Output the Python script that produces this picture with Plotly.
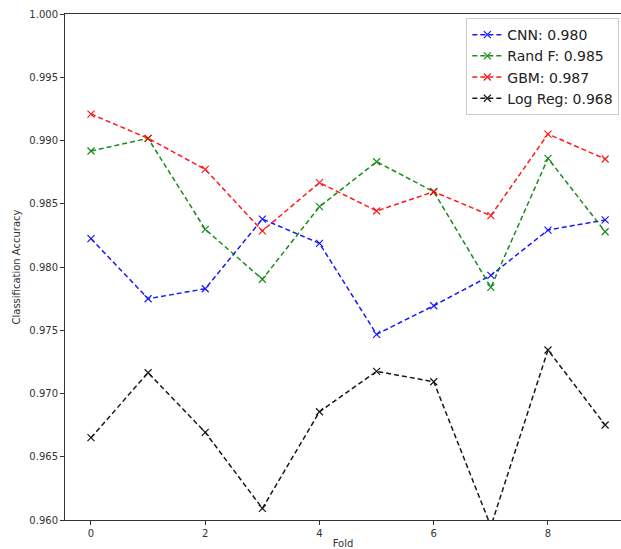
import plotly.graph_objects as go

folds = list(range(10))
cnn = [0.98224, 0.97749, 0.97828, 0.98379, 0.98187, 0.97468, 0.97694, 0.97934, 0.98292, 0.98372]
rand_f = [0.98917, 0.99017, 0.98298, 0.97903, 0.98477, 0.98832, 0.98595, 0.97839, 0.98859, 0.98279]
gbm = [0.99209, 0.99017, 0.98772, 0.98285, 0.98667, 0.98443, 0.98595, 0.98406, 0.99051, 0.98854]
log_reg = [0.96651, 0.97164, 0.96693, 0.96092, 0.96856, 0.97175, 0.97093, 0.9595, 0.97344, 0.96751]

series_names = ["CNN: 0.980", "Rand F: 0.985", "GBM: 0.987", "Log Reg: 0.968"]
series_values = [cnn, rand_f, gbm, log_reg]
series_colors = ["#0000ff", "#008000", "#ff0000", "#000000"]

y_ticks = [0.960, 0.965, 0.970, 0.975, 0.980, 0.985, 0.990, 0.995, 1.000]
x_ticks = [0, 2, 4, 6, 8]

fig = go.Figure()
for name, vals, col in zip(series_names, series_values, series_colors):
    fig.add_trace(go.Scatter(
        x=folds, y=vals, name=name, mode="lines+markers",
        line=dict(color=col, width=1.5, dash="5px,3px"),
        marker=dict(symbol="x-thin", size=7, line=dict(color=col, width=1.2), color=col),
        opacity=0.9,
    ))

font = "DejaVu Sans, Liberation Sans, sans-serif"
fig.update_layout(
    width=621, height=549,
    margin=dict(l=65, r=0, t=14, b=29),
    paper_bgcolor="white", plot_bgcolor="white",
    font=dict(family=font, size=10, color="#333333"),
    showlegend=True,
    legend=dict(
        x=0.997, y=0.992, xanchor="right", yanchor="top",
        bgcolor="rgba(255,255,255,0.9)", bordercolor="#cccccc", borderwidth=1,
        font=dict(family=font, size=14, color="#222222"),
        tracegroupgap=0, itemwidth=30,
    ),
    xaxis=dict(
        range=[-0.455, 9.278], tickvals=x_ticks, ticktext=[str(t) for t in x_ticks],
        showgrid=False, zeroline=False,
        showline=True, linecolor="#333333", linewidth=1, mirror=True,
        ticks="outside", ticklen=4, tickcolor="#333333",
        title=dict(text="Fold", font=dict(size=10, color="#333333"), standoff=4),
    ),
    yaxis=dict(
        range=[0.960, 1.000], tickvals=y_ticks, ticktext=[f"{t:.3f}" for t in y_ticks],
        showgrid=False, zeroline=False,
        showline=True, linecolor="#333333", linewidth=1, mirror=False,
        ticks="outside", ticklen=4, tickcolor="#333333",
        title=dict(text="Classification Accuracy", font=dict(size=10, color="#333333"), standoff=6),
    ),
)

fig.write_html("out.html")
